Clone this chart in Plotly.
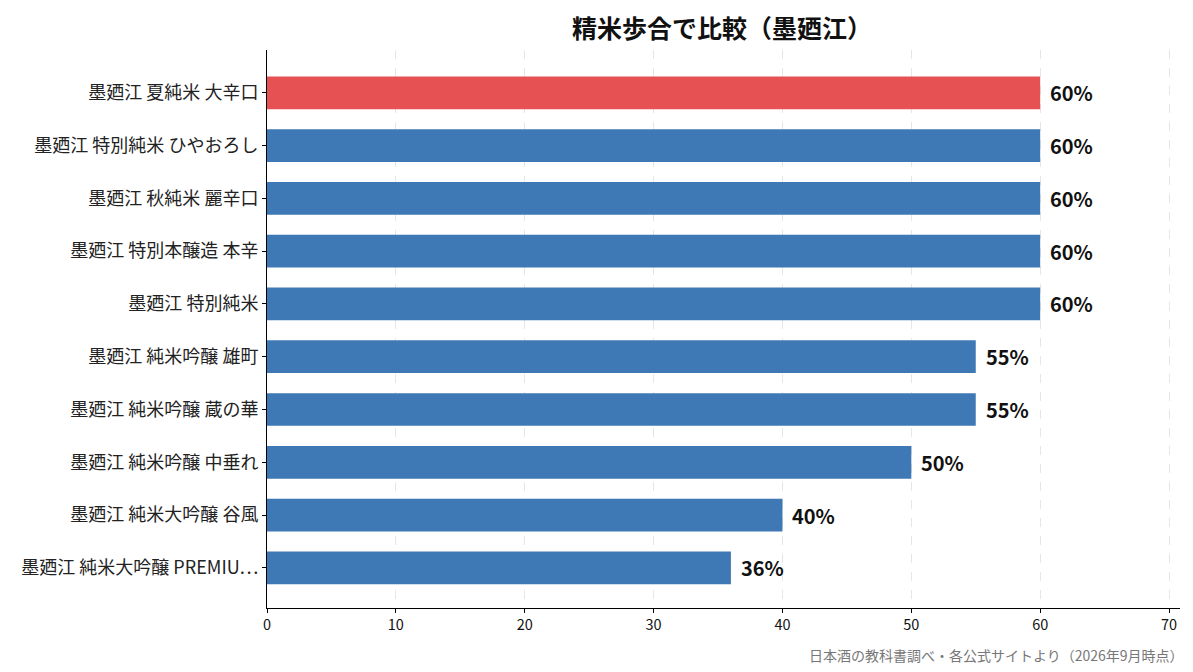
import plotly.graph_objects as go

# 精米歩合（%）
names = [
    "墨廼江 夏純米 大辛口",
    "墨廼江 特別純米 ひやおろし",
    "墨廼江 秋純米 麗辛口",
    "墨廼江 特別本醸造 本辛",
    "墨廼江 特別純米",
    "墨廼江 純米吟醸 雄町",
    "墨廼江 純米吟醸 蔵の華",
    "墨廼江 純米吟醸 中垂れ",
    "墨廼江 純米大吟醸 谷風",
    "墨廼江 純米大吟醸 PREMIU…",
]
polish = [60, 60, 60, 60, 60, 55, 55, 50, 40, 36]
highlight = "墨廼江 夏純米 大辛口"
title = "精米歩合で比較（墨廼江）"
source = "日本酒の教科書調べ・各公式サイトより（2026年9月時点）"

RED = "#E65254"
BLUE = "#3E79B6"
FONT = "Noto Sans CJK JP"

# bottom-to-top order like matplotlib barh
ys = names[::-1]
xs = polish[::-1]
colors = [RED if n == highlight else BLUE for n in ys]

fig = go.Figure()
fig.add_trace(go.Bar(
    x=xs, y=ys, orientation="h",
    marker=dict(color=colors, line=dict(width=0)),
    width=0.62,
    hoverinfo="x+y",
))

# value labels just to the right of each bar
for n, v in zip(ys, xs):
    fig.add_annotation(
        x=v, y=n, text=f"<b>{v}%</b>", showarrow=False,
        xanchor="left", xshift=8,
        font=dict(family=FONT, size=20, color="#111111"),
    )

# title as an annotation so it stays inside the page
fig.add_annotation(
    text=f"<b>{title}</b>",
    xref="paper", yref="paper", x=0.498, y=1.041,
    xanchor="center", yanchor="middle", showarrow=False,
    font=dict(family=FONT, size=25, color="#111111"),
)

fig.add_annotation(
    text=source,
    xref="paper", yref="paper", x=1.0, y=-0.084, xshift=6,
    xanchor="right", yanchor="middle", showarrow=False,
    font=dict(family=FONT, size=14, color="#777777"),
)

fig.update_layout(
    width=1177, height=656,
    margin=dict(l=259, r=5, t=42, b=56),
    plot_bgcolor="white", paper_bgcolor="white",
    showlegend=False,
)
fig.update_xaxes(
    range=[0, 70.85], dtick=10, tick0=0,
    showgrid=True, gridcolor="#e6e6e6", griddash="dash", gridwidth=1,
    showline=True, linecolor="black", linewidth=1,
    ticks="outside", ticklen=4, tickcolor="black",
    tickfont=dict(family=FONT, size=14.5, color="#111111"),
    zeroline=False,
)
fig.update_yaxes(
    categoryorder="array", categoryarray=ys,
    range=[-0.76, 9.81],
    showgrid=False,
    showline=True, linecolor="black", linewidth=1,
    ticks="outside", ticklen=4, tickcolor="black",
    tickfont=dict(family=FONT, size=18, color="#222222"),
)

fig.write_html("out.html")
